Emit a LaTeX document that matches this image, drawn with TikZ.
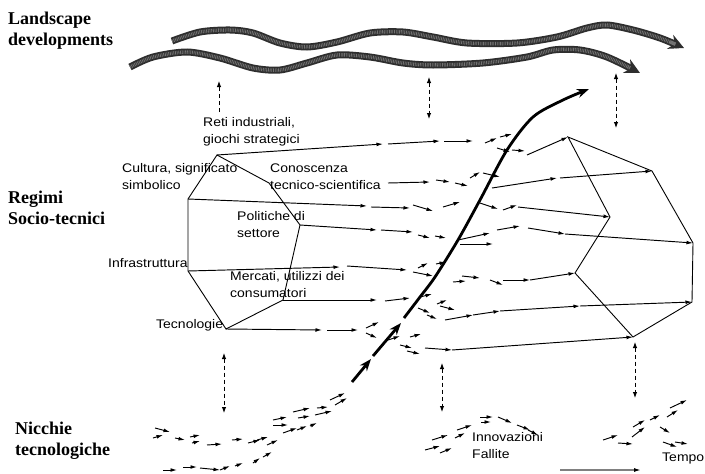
\documentclass[tikz,border=0pt]{standalone}
\usepackage{fontspec}
\setmainfont{Liberation Serif}
\newfontfamily\lblfont[FakeStretch=1.12]{Liberation Sans}
\usepackage{tikz}
\usetikzlibrary{arrows.meta}

\begin{document}
\begin{tikzpicture}[x=1pt,y=-1pt,
  level/.style={font=\fontsize{18}{21}\selectfont\bfseries, anchor=base west, align=left, inner sep=0pt},
  dim/.style={font=\lblfont\fontsize{12.5}{16.5}\selectfont, anchor=base west, align=left, inner sep=0pt},
  edge/.style={line width=0.9pt},
  flow/.style={line width=0.95pt,-{Latex[length=6.5pt,width=3.8pt]}},
  tie/.style={line width=1pt,dash pattern=on 4pt off 3pt,{Latex[length=6pt,width=4.5pt]}-{Latex[length=6pt,width=4.5pt]}},
  transit/.style={line width=2.8pt,-{Stealth[length=12pt,width=9pt]}},
  band/.style={line width=7pt,draw=black!82,-{Stealth[length=15pt,width=15pt]},
    postaction={draw=black!55,line width=3.5pt,dash pattern=on 0.8pt off 0.9pt,shorten >=15pt,-}}]
  \fill[white] (0,0) rectangle (705,474);
  \useasboundingbox (0,0) rectangle (705,474);

  % levels (base = last line)
  \node[level] (land) at (8,45) {Landscape\\developments};
  \node[level] (regime) at (8,224) {Regimi\\Socio-tecnici};
  \node[level] (niche) at (15,455) {Nicchie\\tecnologiche};

  % landscape waves
  \draw[band] plot[smooth] coordinates {(172,41) (200,32) (230,30) (253,33) (280,43) (307,47) (337,42) (370,33) (403,32) (433,37) (467,43) (517,43) (557,37) (587,28) (607,25) (633,30) (660,38) (684,48)};
  \draw[band] plot[smooth] coordinates {(130,67) (153,57) (187,52) (220,58) (253,68) (280,70) (307,63) (337,55) (370,57) (403,63) (433,65) (483,63) (527,57) (553,50) (580,50) (607,57) (640,73)};

  % regime cross sections
  \coordinate (Lreti) at (217,155);
  \coordinate (Lcono) at (269,183);
  \coordinate (Lpol) at (300,225);
  \coordinate (Lmerc) at (283,300);
  \coordinate (Ltec) at (226,329);
  \coordinate (Linfra) at (188,271);
  \coordinate (Lcult) at (188,199);
  \coordinate (Rreti) at (568,137);
  \coordinate (Rcono) at (652,171);
  \coordinate (Rpol) at (693,243);
  \coordinate (Rmerc) at (692,302);
  \coordinate (Rtec) at (633,337);
  \coordinate (Rinfra) at (575,273);
  \coordinate (Rcult) at (610,217);
  \draw[edge] (Lreti) -- (Lcono) -- (Lpol) -- (Lmerc) -- (Ltec) -- (Linfra) -- (Lcult) -- cycle;
  \draw[edge] (Rreti) -- (Rcono) -- (Rpol) -- (Rmerc) -- (Rtec) -- (Rinfra) -- (Rcult) -- cycle;

  % dimension labels
  \node[dim] (reti) at (203,143) {Reti industriali,\\giochi strategici};
  \node[dim] (cult) at (122,189) {Cultura, significato\\simbolico};
  \node[dim] (cono) at (270,189) {Conoscenza\\tecnico-scientifica};
  \node[dim] (pol) at (237,237) {Politiche di\\settore};
  \node[dim] (infra) at (108,267) {Infrastruttura};
  \node[dim] (merc) at (230,297) {Mercati, utilizzi dei\\consumatori};
  \node[dim] (tec) at (156,328) {Tecnologie};

  % trajectories through the regime
  \draw[flow] (Lreti) -- (383,144);
  \draw[flow] (527,155) -- (Rreti);
  \draw[flow] (388,183) -- (430,182);
  \draw[flow] (560,178) -- (Rcono);
  \draw[flow] (Lcult) -- (367,206);
  \draw[flow] (518,207) -- (Rcult);
  \draw[flow] (Lpol) -- (377,230);
  \draw[flow] (565,234) -- (Rpol);
  \draw[flow] (Linfra) -- (340,267);
  \draw[flow] (530,280) -- (Rinfra);
  \draw[flow] (Lmerc) -- (377,300);
  \draw[flow] (580,306) -- (Rmerc);
  \draw[flow] (Ltec) -- (322,330);
  \draw[flow] (452,350) -- (Rtec);
  \foreach \xa/\ya/\xb/\yb in {388/144/440/141, 444/141/473/141, 485/143/497/138, 500/137/512/134, 497/148/510/152, 512/150/525/151,
    436/180/450/182, 455/183/468/186, 470/178/480/172, 483/173/500/177, 492/188/557/178,
    371/207/410/208, 413/205/433/211, 443/207/460/202, 480/203/498/209, 503/210/517/205,
    381/230/413/232, 418/235/430/238, 435/236/446/238, 458/240/490/233, 497/230/520/226, 460/244/493/244, 528/228/565/234,
    347/266/407/270, 413/272/433/276, 418/268/428/263, 436/264/446/262, 453/282/466/281, 462/276/480/278, 490/280/503/285, 503/280/530/280,
    385/301/410/298, 420/297/432/294, 418/308/430/313, 437/304/447/300, 440/306/455/310, 427/315/437/319, 445/320/473/315, 473/315/500/311, 500/311/580/306,
    327/330/358/330, 366/328/379/322, 366/333/377/338, 388/340/400/336, 410/337/421/334, 400/345/412/348, 407/351/420/354, 425/348/452/350}
    \draw[flow] (\xa,\ya) -- (\xb,\yb);

  % niche experiments
  \foreach \xa/\ya/\xb/\yb in {153/438/163/435, 155/428/170/432, 175/438/185/440, 190/437/200/435, 192/443/200/441,
    207/445/222/444, 232/440/243/439, 248/443/260/440, 257/440/268/437, 267/445/278/440,
    273/420/287/417, 273/425/288/425, 283/433/297/428, 293/412/310/408, 298/418/310/416, 297/430/307/426,
    310/426/317/423, 317/408/328/407, 315/415/332/411, 330/400/345/393, 335/405/347/398,
    163/470/177/470, 183/467/197/467, 200/468/220/470, 220/470/230/466, 235/466/243/463, 253/463/260/458, 263/457/272/452,
    425/450/440/446, 432/440/448/435, 440/453/452/448, 455/438/465/433, 457/430/472/425,
    480/417/493/417, 481/422/491/422, 498/417/512/423, 517/425/530/430, 528/430/538/435,
    603/440/618/435, 618/443/633/444, 632/437/645/427, 633/427/645/420, 650/420/660/415,
    660/427/670/433, 667/417/678/410, 670/408/687/400, 663/442/677/447, 675/442/688/444}
    \draw[flow] (\xa,\ya) -- (\xb,\yb);
  \node[dim] (fail) at (472,458) {Innovazioni\\Fallite};

  % breakthrough path
  \draw[transit] (352,382) -- (371,359);
  \draw[transit] (373,356) -- (401,323);
  \draw[transit] plot[smooth] coordinates {(404,318) (420,297) (435,277) (458,240) (480,200) (507,150) (533,117) (563,100) (589,89)};

  % links between levels
  \draw[tie,-{Latex[length=6pt,width=4.5pt]}] (219,112) -- (219,81);
  \draw[tie] (429,77) -- (429,119);
  \draw[tie] (616,73) -- (616,128);
  \draw[tie] (224,353) -- (224,413);
  \draw[tie] (442,363) -- (442,412);
  \draw[tie] (635,342) -- (635,398);

  % time axis
  \node[dim] (tempo) at (662,461) {Tempo};
  \draw[gray, line width=1.3pt, -{Latex[length=7pt,width=4pt,black]}] (560,470) -- (641,470);
\end{tikzpicture}
\end{document}
